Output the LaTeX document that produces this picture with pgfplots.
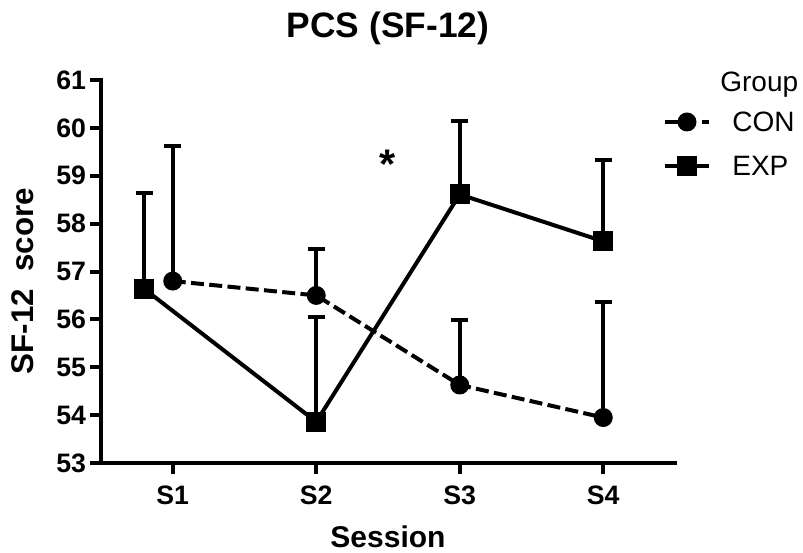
\documentclass[border=0pt]{standalone}
\usepackage{pgfplots}
\pgfplotsset{compat=1.18}
\usepackage{pgfplotstable}
\usepackage{fontspec}
\setmainfont{Liberation Sans}

\pgfplotstableread{
x    y      e
1    56.80  2.82
2    56.50  0.97
3    54.63  1.36
4    53.95  2.42
}\con
\pgfplotstableread{
x    y      e
0.8  56.64  1.99
2    53.86  2.19
3    58.61  1.54
4    57.63  1.70
}\expg

\begin{document}
\begin{tikzpicture}
\useasboundingbox (-75.75pt,-67.5pt) rectangle (526.5pt,347.25pt);
\begin{axis}[
  at={(0pt,0pt)}, anchor=south west,
  scale only axis, width=430.5pt, height=287.25pt,
  xmin=0.5, xmax=4.5, ymin=53, ymax=61,
  clip=false,
  axis lines*=left,
  axis line style={-, line width=3pt, line cap=rect},
  tick align=outside,
  major tick length=8pt,
  major tick style={line width=3pt, black},
  xtick={1,2,3,4}, xticklabels={S1,S2,S3,S4},
  ytick={53,54,...,61},
  /pgf/number format/assume math mode=true,
  ticklabel style={font=\fontsize{20pt}{24pt}\selectfont\bfseries, inner sep=0pt},
  yticklabel style={xshift=-3pt},
  xticklabel style={yshift=-9pt},
  legend cell align=left,
  legend style={draw=none, fill=none, inner sep=0pt, outer sep=0pt,
    at={(0.9791,0.9165)}, anchor=north west,
    row sep=18pt, column sep=16pt,
    nodes={inner sep=0pt, outer sep=0pt, text height=15pt, text depth=0pt,
      font=\fontsize{21pt}{25pt}\selectfont}},
  legend image code/.code={%
    \draw[mark repeat=2,mark phase=2,#1] plot coordinates {(0pt,0pt) (16.5pt,0pt) (33pt,0pt)};},
]
\addplot[black, line width=3pt, dash pattern=on 9.75pt off 4pt,
  mark=*, mark size=5.6pt, mark options={solid},
  error bars/.cd, y dir=plus, y explicit,
  error bar style={solid, line width=3pt},
  error mark options={rotate=90, solid, line width=3pt, mark size=6.4pt}]
  table[x=x, y=y, y error=e] {\con};
\addlegendentry{CON}
\addplot[black, line width=3pt, solid,
  mark=square*, mark size=6pt, mark options={solid},
  error bars/.cd, y dir=plus, y explicit,
  error bar style={solid, line width=3pt},
  error mark options={rotate=90, solid, line width=3pt, mark size=6.4pt}]
  table[x=x, y=y, y error=e] {\expg};
\addlegendentry{EXP}
\node[anchor=base, font=\fontsize{31pt}{36pt}\selectfont\bfseries] at (axis cs:2.5,58.95) {*};
\end{axis}
\node[anchor=base, font=\fontsize{26.5pt}{31pt}\selectfont\bfseries] at (215.25pt,318.75pt) {PCS (SF-12)};
\node[anchor=base, font=\fontsize{22.5pt}{26pt}\selectfont\bfseries] at (215.25pt,-63pt) {Session};
\node[anchor=base, rotate=90, font=\fontsize{23.5pt}{27pt}\selectfont\bfseries] at (-50.25pt,136.5pt) {SF-12\ \ score};
\node[anchor=base west, font=\fontsize{21pt}{25pt}\selectfont] at (461pt,278.25pt) {Group};
\end{tikzpicture}
\end{document}
